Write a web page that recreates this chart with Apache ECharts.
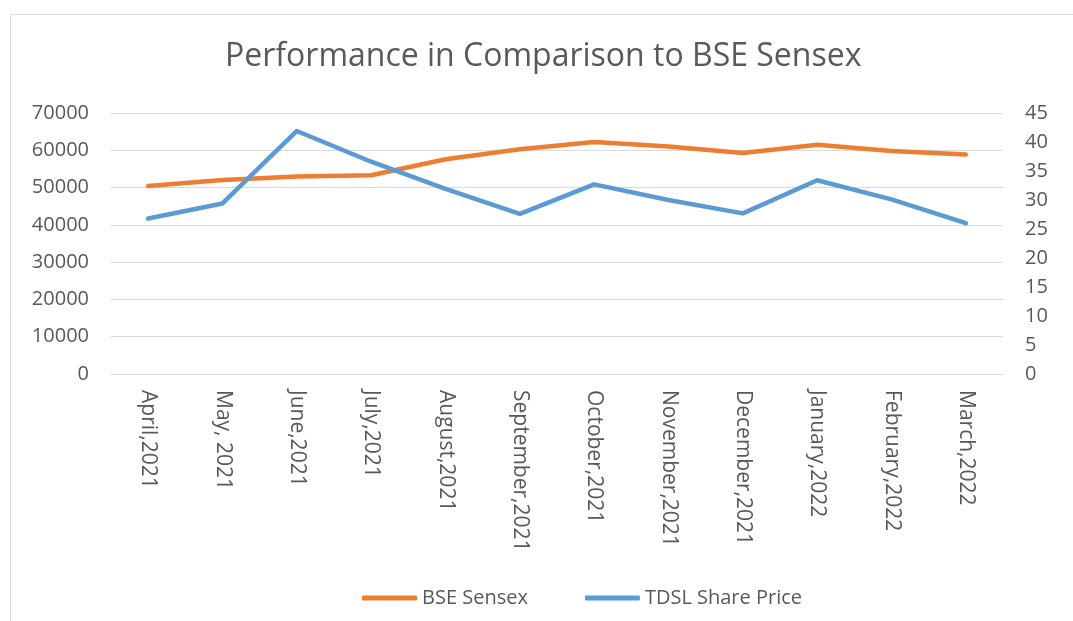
<!DOCTYPE html>
<html>
<head>
<meta charset="utf-8">
<script src="https://cdn.jsdelivr.net/npm/echarts@6/dist/echarts.min.js"></script>
<style>
html,body{margin:0;padding:0;background:#fff;}
#chart{width:1073px;height:621px;}
</style>
</head>
<body>
<div id="chart"></div>
<script>
const categories = ['April,2021','May, 2021','June,2021','July,2021','August,2021','September,2021','October,2021','November,2021','December,2021','January,2022','February,2022','March,2022'];
const bseSensex = [50400, 52000, 53000, 53300, 57600, 60300, 62200, 61000, 59300, 61500, 59800, 58900];
const tdslSharePrice = [26.8, 29.4, 41.9, 36.6, 31.9, 27.6, 32.7, 30.0, 27.7, 33.4, 30.1, 26.0];
const leftTicks = {min: 0, max: 70000, interval: 10000};
const rightTicks = {min: 0, max: 45, interval: 5};

const FONT = '"Open Sans", "Liberation Sans", sans-serif';
const TXT = '#595959';
const chart = echarts.init(document.getElementById('chart'), null, {renderer: 'canvas'});
chart.setOption({
  animation: false,
  backgroundColor: '#ffffff',
  textStyle: {fontFamily: FONT},
  graphic: [{
    type: 'rect', silent: true, z: -10,
    shape: {x: 10.5, y: 14.5, width: 1200, height: 800},
    style: {fill: 'none', stroke: '#d9d9d9', lineWidth: 1}
  }],
  title: {
    text: 'Performance in Comparison to BSE Sensex',
    left: 220, top: 36,
    textStyle: {fontFamily: FONT, fontSize: 32, fontWeight: 'normal', color: TXT}
  },
  legend: {
    top: 588, left: 362, padding: 0,
    icon: 'roundRect', itemWidth: 55, itemHeight: 5, itemGap: 57,
    textStyle: {fontFamily: FONT, fontSize: 20, color: TXT, padding: [0, 0, 0, 0]},
    data: ['BSE Sensex', 'TDSL Share Price']
  },
  grid: {left: 111, right: 70, top: 113, bottom: 247, containLabel: false},
  xAxis: {
    type: 'category', data: categories, boundaryGap: true,
    axisLine: {show: true, lineStyle: {color: '#d9d9d9', width: 1}},
    axisTick: {show: false},
    axisLabel: {rotate: -90, margin: 16, fontFamily: FONT, fontSize: 21, color: TXT, interval: 0}
  },
  yAxis: [{
    type: 'value', position: 'left',
    min: leftTicks.min, max: leftTicks.max, interval: leftTicks.interval,
    axisLine: {show: false}, axisTick: {show: false},
    splitLine: {show: true, lineStyle: {color: '#d9d9d9', width: 1}},
    axisLabel: {margin: 22, fontFamily: FONT, fontSize: 20, color: TXT, formatter: v => String(v)}
  }, {
    type: 'value', position: 'right',
    min: rightTicks.min, max: rightTicks.max, interval: rightTicks.interval,
    axisLine: {show: false}, axisTick: {show: false},
    splitLine: {show: false},
    axisLabel: {margin: 22, fontFamily: FONT, fontSize: 20, color: TXT, formatter: v => String(v)}
  }],
  series: [{
    name: 'BSE Sensex', type: 'line', yAxisIndex: 0, data: bseSensex,
    showSymbol: false, symbol: 'none',
    color: '#ED7D31',
    lineStyle: {color: '#ED7D31', width: 4.5, cap: 'round', join: 'round'}
  }, {
    name: 'TDSL Share Price', type: 'line', yAxisIndex: 1, data: tdslSharePrice,
    showSymbol: false, symbol: 'none',
    color: '#5B9BD5',
    lineStyle: {color: '#5B9BD5', width: 4.5, cap: 'round', join: 'round'}
  }]
});
</script>
</body>
</html>
